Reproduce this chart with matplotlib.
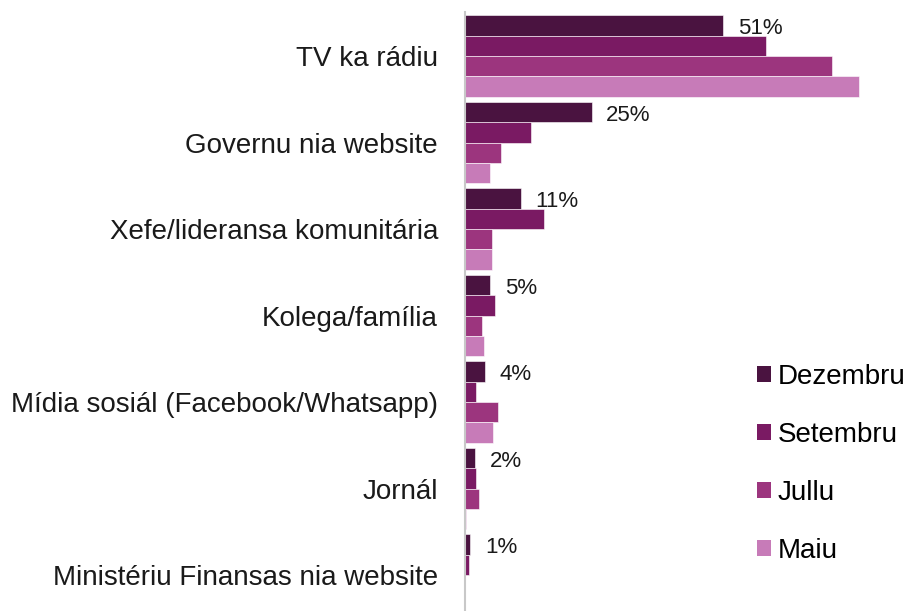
import matplotlib
matplotlib.use("Agg")
import matplotlib.pyplot as plt
from matplotlib.patches import Patch
import numpy as np

plt.rcParams['font.family'] = ['Liberation Sans', 'DejaVu Sans']

categories = ["TV ka rádiu", "Governu nia website", "Xefe/lideransa komunitária",
              "Kolega/família", "Mídia sosiál (Facebook/Whatsapp)", "Jornál",
              "Ministériu Finansas nia website"]
series_names = ["Dezembru", "Setembru", "Jullu", "Maiu"]
dezembru = [51, 25, 11, 5, 4, 2, 1]
setembru = [59.5, 13, 15.5, 6, 2.2, 2.2, 0.8]
jullu = [72.4, 7.1, 5.4, 3.3, 6.6, 2.8, 0]
maiu = [77.7, 4.9, 5.3, 3.8, 5.5, 0.1, 0]
dez_labels = ["51%", "25%", "11%", "5%", "4%", "2%", "1%"]

colors = ["#4a1340", "#7a1a63", "#9c357e", "#c77bb8"]

W, H = 907, 611
fig = plt.figure(figsize=(W / 100, H / 100), dpi=100)
ax = fig.add_axes([465 / W, 0, 430 / W, 599 / H])

spacing = 86.5
top_center = 56 - 12  # px from axes top
ymin = -top_center / spacing
ymax = (599 - top_center) / spacing
bh = 0.236
y = np.arange(len(categories))
all_series = [dezembru, setembru, jullu, maiu]
for k, (vals, c, name) in enumerate(zip(all_series, colors, series_names)):
    offs = (k - 1.5) * bh
    ax.barh(y + offs, vals, height=bh, color=c, edgecolor="white", linewidth=0.4, label=name)

for i, (v, lab) in enumerate(zip(dezembru, dez_labels)):
    ax.text(v + 2.9, i - 1.5 * bh + 0.04, lab, va="center", ha="left", fontsize=16, color="#1a1a1a")

ax.set_xlim(0, 430 / 5.065)
ax.set_ylim(ymax, ymin)
ax.set_yticks(y)
ax.set_yticklabels(categories, fontsize=20, color="#1a1a1a")
ax.tick_params(axis="y", length=0, pad=19.5)
ax.set_xticks([])
for s in ["top", "right", "bottom"]:
    ax.spines[s].set_visible(False)
ax.spines["left"].set_color("#c8c8c8")
ax.spines["left"].set_linewidth(1.5)

handles = [Patch(facecolor=c, label=n) for c, n in zip(colors, series_names)]
fig.legend(handles=handles, loc="upper left", bbox_to_anchor=(757 / W, 1 - 364 / H),
           frameon=False, fontsize=20, handlelength=0.5, handleheight=0.5,
           handletextpad=0.25, labelspacing=1.15, borderpad=0, borderaxespad=0)

fig.savefig("out.png", dpi=100)
